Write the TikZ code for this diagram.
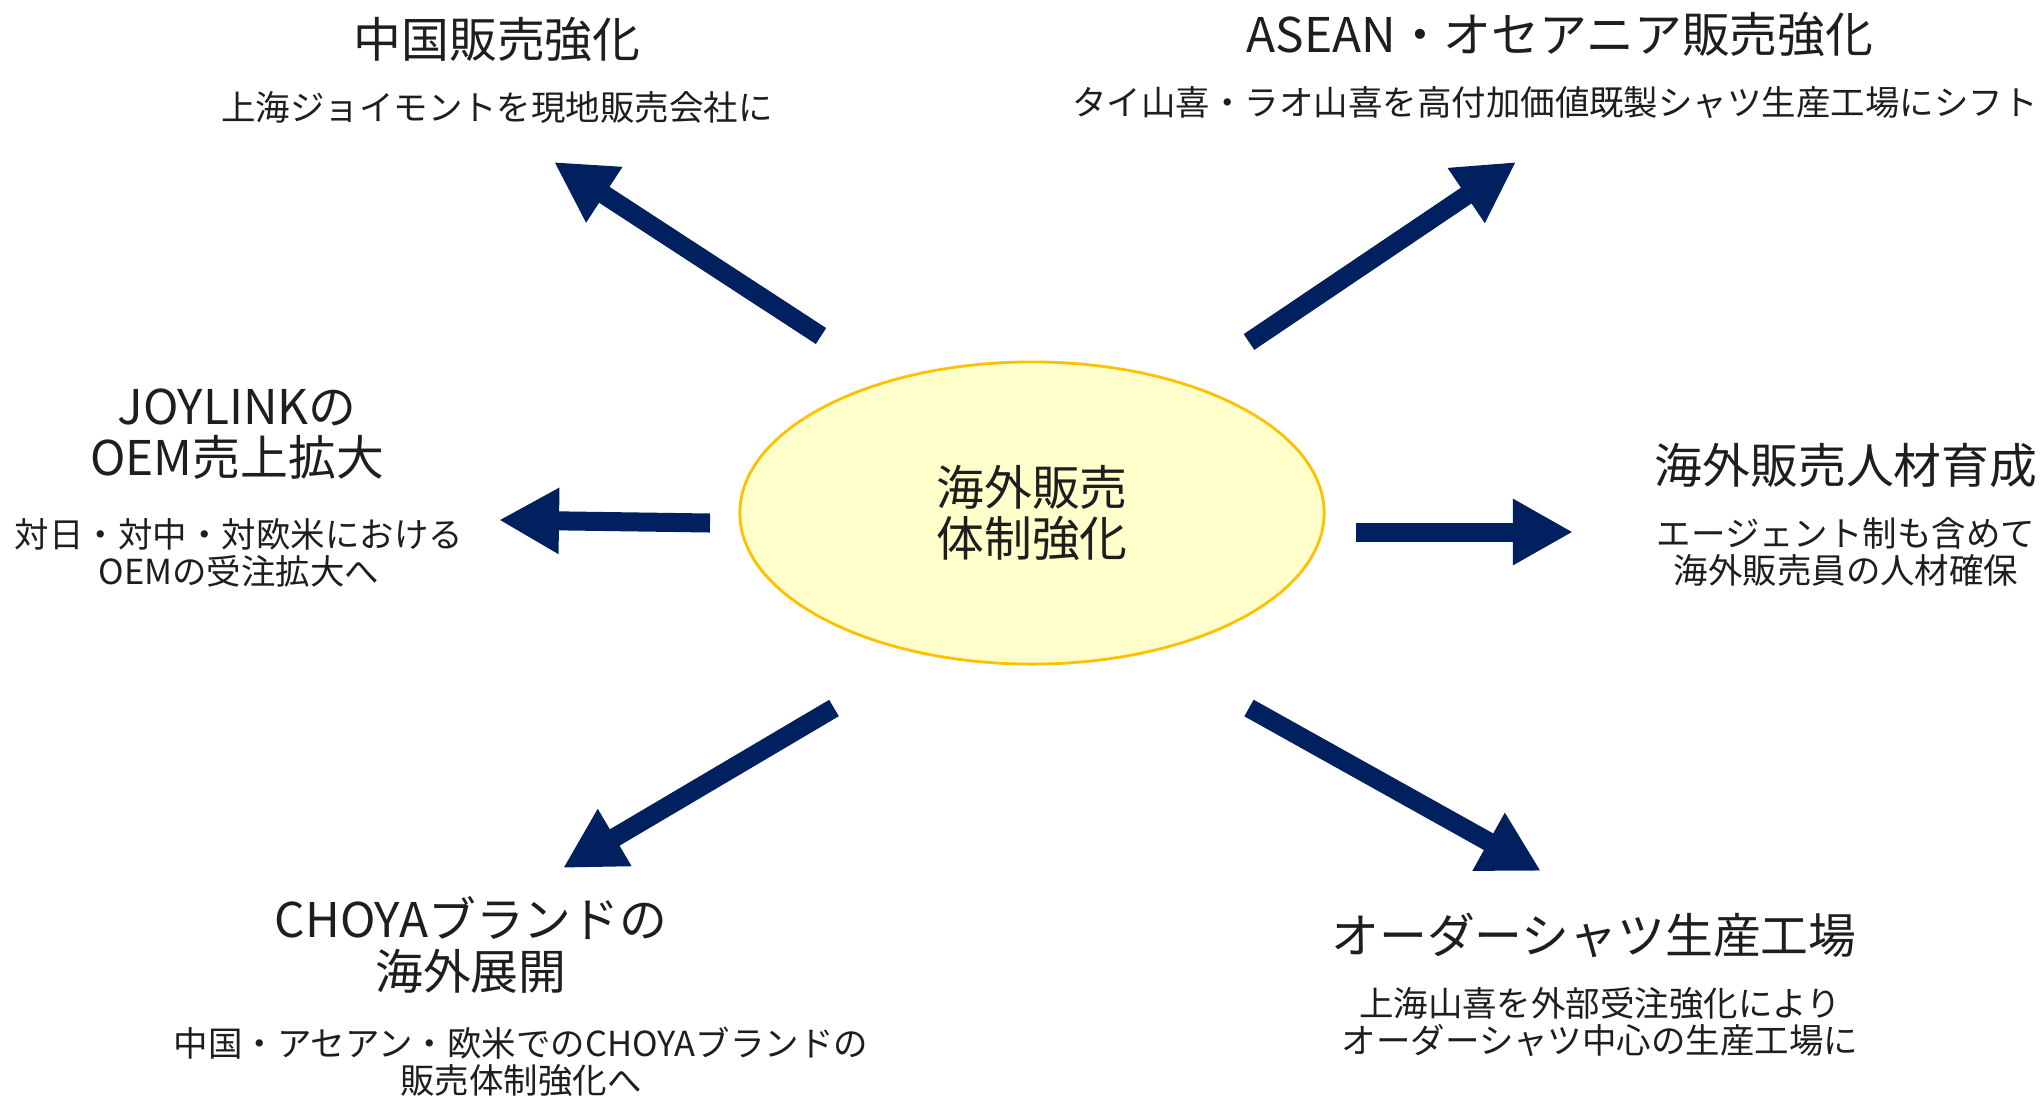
\documentclass[tikz,border=0pt]{standalone}
\usepackage{fontspec}
\setmainfont{Noto Sans CJK JP}
\usetikzlibrary{arrows.meta,shapes.geometric}
\definecolor{navy}{RGB}{0,32,96}
\definecolor{gold}{RGB}{255,192,0}
\definecolor{cream}{RGB}{255,255,204}
\definecolor{ink}{RGB}{30,30,30}
\tikzset{
  head/.style={font=\fontsize{13.6}{14.6}\selectfont,text=ink,align=center,inner sep=0pt},
  note/.style={font=\fontsize{9.8}{10.6}\selectfont,text=ink,align=center,inner sep=0pt},
  push/.style={draw=navy,line width=0.19cm,-{Triangle[length=0.6cm,width=0.62cm]}}
}

\begin{document}
\begin{tikzpicture}[x=0.01cm,y=-0.01cm]
\useasboundingbox (0,0) rectangle (2044,1099);
\node[ellipse,draw=gold,fill=cream,line width=0.8pt,minimum width=5.84cm,minimum height=3.02cm,head] (core) at (1032,513) {海外販売\\体制強化};
\node[head] (cn) at (497,39) {中国販売強化};
\node[note] (cnsub) at (497,107) {上海ジョイモントを現地販売会社に};
\node[head] (asean) at (1560,34) {ASEAN・オセアニア販売強化};
\node[note] (aseansub) at (1555,103) {タイ山喜・ラオ山喜を高付加価値既製シャツ生産工場にシフト};
\node[head] (oem) at (237,434) {JOYLINKの\\OEM売上拡大};
\node[note] (oemsub) at (239,553) {対日・対中・対欧米における\\OEMの受注拡大へ};
\node[head] (hr) at (1846,465) {海外販売人材育成};
\node[note] (hrsub) at (1846,552) {エージェント制も含めて\\海外販売員の人材確保};
\node[head] (choya) at (471,945) {CHOYAブランドの\\海外展開};
\node[note] (choyasub) at (521,1062) {中国・アセアン・欧米でのCHOYAブランドの\\販売体制強化へ};
\node[head] (order) at (1594,935) {オーダーシャツ生産工場};
\node[note] (ordersub) at (1600,1022) {上海山喜を外部受注強化により\\オーダーシャツ中心の生産工場に};
\coordinate (A1) at (821,336);
\coordinate (A2) at (554,162);
\coordinate (B1) at (1249,342);
\coordinate (B2) at (1516,162);
\coordinate (C1) at (710,523);
\coordinate (C2) at (499,520);
\coordinate (D1) at (1356,532);
\coordinate (D2) at (1573,532);
\coordinate (E1) at (834,708);
\coordinate (E2) at (563,868);
\coordinate (F1) at (1249,708);
\coordinate (F2) at (1541,871);
\draw[push] (A1) -- (A2);
\draw[push] (B1) -- (B2);
\draw[push] (C1) -- (C2);
\draw[push] (D1) -- (D2);
\draw[push] (E1) -- (E2);
\draw[push] (F1) -- (F2);
\end{tikzpicture}
\end{document}
